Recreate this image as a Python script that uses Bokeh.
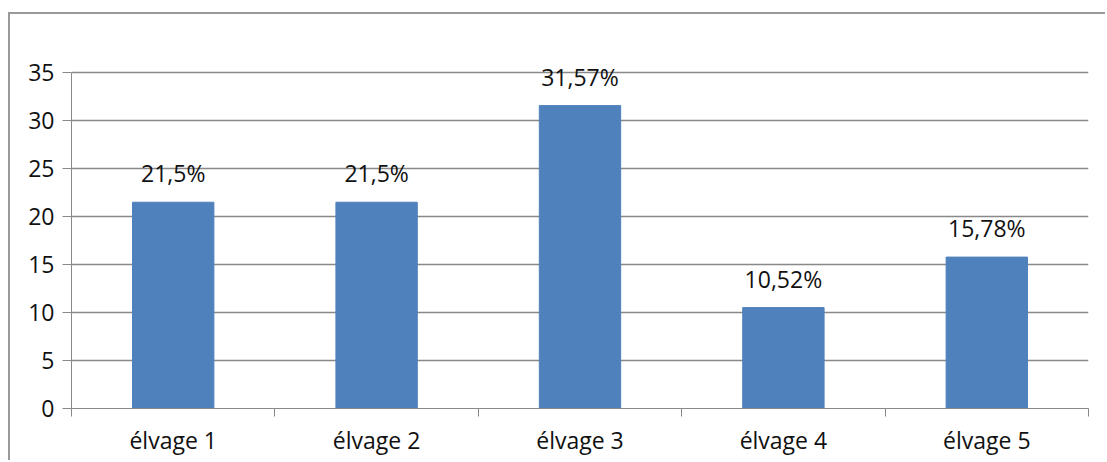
from bokeh.plotting import figure
from bokeh.layouts import column
from bokeh.models import ColumnDataSource, FixedTicker, Range1d
from bokeh.core.properties import value
from bokeh.embed import file_html
from bokeh.resources import INLINE

categories = ["élvage 1", "élvage 2", "élvage 3", "élvage 4", "élvage 5"]
values = [21.5, 21.5, 31.57, 10.52, 15.78]
value_labels = ["21,5%", "21,5%", "31,57%", "10,52%", "15,78%"]
y_ticks = [0, 5, 10, 15, 20, 25, 30, 35]

FONT = "Open Sans"
GRID = "#898989"

xs = [i + 0.5 for i in range(len(categories))]
src = ColumnDataSource(dict(x=xs, top=values, lab=value_labels))

p = figure(width=1097, height=448, output_backend="svg", toolbar_location=None,
           x_range=Range1d(0, len(categories)), y_range=Range1d(0, 37),
           min_border_left=61, min_border_right=19, min_border_top=39, min_border_bottom=54)
p.outline_line_color = None
p.background_fill_color = "white"
p.border_fill_color = "white"

p.vbar(x="x", top="top", width=0.4, bottom=0, source=src, color="#4f81bd")
p.text(x="x", y="top", text="lab", source=src, text_align="center",
       text_baseline="alphabetic", y_offset=-29, text_font=value(FONT),
       text_font_size="23px", text_color="#111111")

# y axis
p.yaxis.ticker = FixedTicker(ticks=y_ticks)
p.yaxis.bounds = (0, 35)
p.yaxis.axis_line_color = GRID
p.yaxis.major_tick_line_color = GRID
p.yaxis.major_tick_out = 9
p.yaxis.major_tick_in = 0
p.yaxis.minor_tick_line_color = None
p.yaxis.major_label_standoff = 8
p.yaxis.major_label_text_font = FONT
p.yaxis.major_label_text_font_size = "23px"
p.yaxis.major_label_text_color = "#111111"

# x axis: labels at centers, tick marks at category boundaries
p.xaxis.ticker = FixedTicker(ticks=xs, minor_ticks=list(range(len(categories) + 1)))
p.xaxis.major_label_overrides = {x: c for x, c in zip(xs, categories)}
p.xaxis.axis_line_color = GRID
p.xaxis.major_tick_line_color = None
p.xaxis.major_tick_out = 0
p.xaxis.major_tick_in = 0
p.xaxis.minor_tick_line_color = GRID
p.xaxis.minor_tick_out = 8
p.xaxis.minor_tick_in = 0
p.xaxis.major_label_standoff = 7
p.xaxis.major_label_text_font = FONT
p.xaxis.major_label_text_font_size = "23px"
p.xaxis.major_label_text_color = "#111111"

p.xgrid.grid_line_color = None
p.ygrid.ticker = FixedTicker(ticks=y_ticks)
p.ygrid.grid_line_color = GRID
p.ygrid.grid_line_width = 1.3

# outer chart border: only its top and left edges fall inside the picture
layout = column(p, styles={"box-shadow": "-2px -2px 0 0 #999999",
                           "margin-left": "10px", "margin-top": "14px"})

open("out.html", "w").write(file_html(layout, INLINE))
